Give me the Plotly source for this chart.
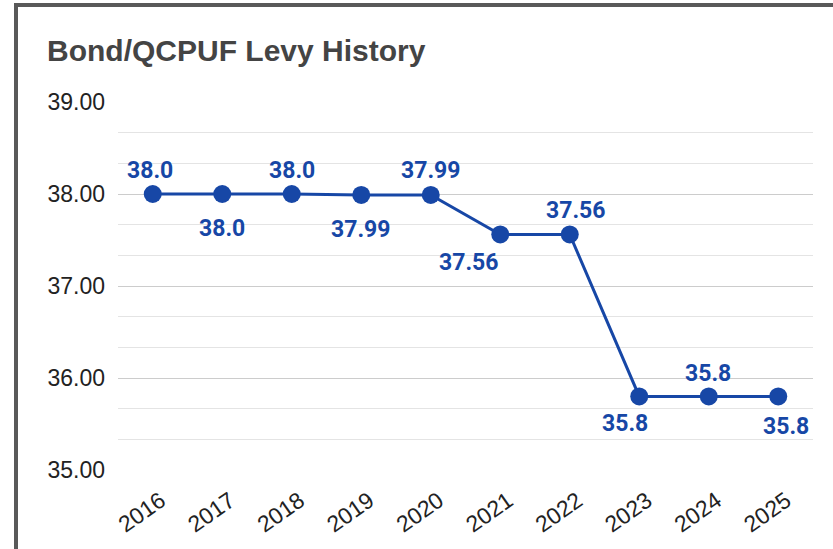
import plotly.graph_objects as go

years = ["2016", "2017", "2018", "2019", "2020", "2021", "2022", "2023", "2024", "2025"]
levy = [38.0, 38.0, 38.0, 37.99, 37.99, 37.56, 37.56, 35.8, 35.8, 35.8]
labels = ["38.0", "38.0", "38.0", "37.99", "37.99", "37.56", "37.56", "35.8", "35.8", "35.8"]
y_ticks = [35, 36, 37, 38, 39]

# label placement (pixel offsets from each point), styling only
label_dx = [-3, 0, 0, -1, 0, -32, 6, -14, -1, 8]
label_dy = [24, -34.5, 24, -34.5, 24, -28, 24, -27.5, 23, -30]

BLUE = "#1747a6"
W, H = 833, 549
ML, MR, MT, MB = 118, 20, 102, 79
PW, PH = W - ML - MR, H - MT - MB


def px_x(p):
    return (p - ML) / PW


def px_y(p):
    return (H - MB - p) / PH


fig = go.Figure()
fig.add_trace(go.Scatter(
    x=years, y=levy, mode="lines+markers",
    line=dict(color=BLUE, width=3),
    marker=dict(color=BLUE, size=18),
    cliponaxis=False, showlegend=False, hoverinfo="x+y",
))

# category axes place annotations by category index
for i, (v, lab, dx, dy) in enumerate(zip(levy, labels, label_dx, label_dy)):
    fig.add_annotation(
        x=i, y=v, xref="x", yref="y", text=lab, showarrow=False,
        xanchor="center", yanchor="middle",
        xshift=dx, yshift=dy,
        font=dict(family="Roboto", size=23, color=BLUE, weight="bold"),
    )

fig.update_layout(
    width=W, height=H,
    margin=dict(l=ML, r=MR, t=MT, b=MB, autoexpand=False),
    paper_bgcolor="white", plot_bgcolor="white",
    title=dict(text="<b>Bond/QCPUF Levy History</b>", xref="container", x=47 / W, xanchor="left",
               yref="container", y=1 - 50 / H, yanchor="middle",
               font=dict(family="Liberation Sans, Arial", size=30, color="#444444")),
    xaxis=dict(type="category", range=[-0.5, 9.5], showgrid=False, showline=False, zeroline=False,
               tickangle=-35, ticks="", ticklabelstandoff=12, ticklabelshift=8,
               tickfont=dict(family="Liberation Sans, Arial", size=23, color="#222222")),
    yaxis=dict(range=[35, 39], tickvals=y_ticks, tickformat=".2f",
               showgrid=True, gridcolor="#cccccc", gridwidth=1, zeroline=False, showline=False,
               ticks="", ticklabelstandoff=12,
               tickfont=dict(family="Liberation Sans, Arial", size=23, color="#222222"),
               minor=dict(dtick=1 / 3, tick0=35, showgrid=True, gridcolor="#e4e4e4", gridwidth=1)),
    shapes=[
        dict(type="line", xref="paper", yref="paper", x0=px_x(14), x1=px_x(W + 5), y0=px_y(5), y1=px_y(5),
             line=dict(color="#595959", width=4)),
        dict(type="line", xref="paper", yref="paper", x0=px_x(16), x1=px_x(16), y0=px_y(3), y1=px_y(H + 5),
             line=dict(color="#595959", width=4)),
    ],
)

fig.write_html("out.html", config={"displayModeBar": False},
               post_script="document.body.style.margin='0';document.body.style.padding='0';")
